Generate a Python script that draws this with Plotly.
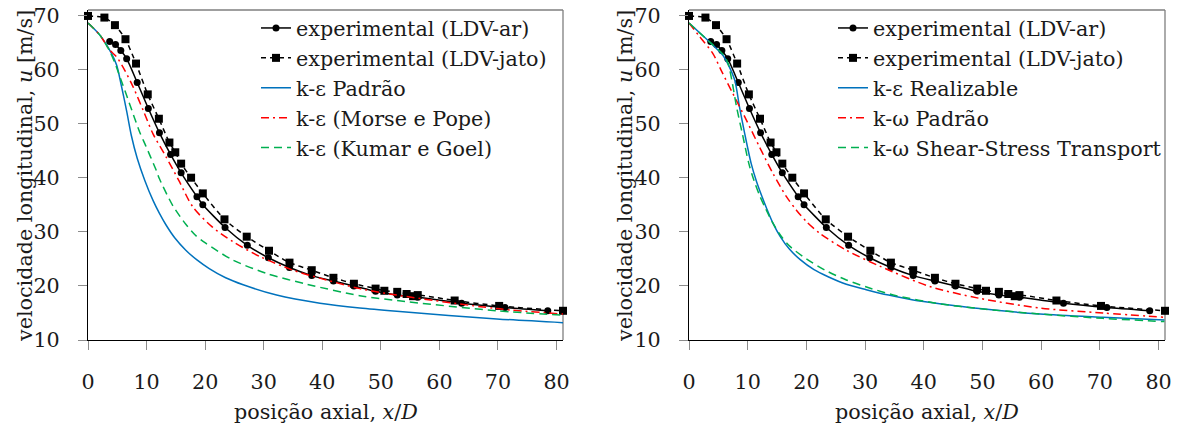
import plotly.graph_objects as go

# ---------------- data ----------------
ldv_ar_x = [3.7, 4.7, 5.6, 6.6, 8.4, 10.3, 12.2, 14.1, 15.9, 18.6, 19.6, 23.4, 27.2, 30.8, 34.4,
            38.2, 41.9, 45.4, 49.1, 52.8, 56.3, 63.8, 71.2, 78.5]
ldv_ar_y = [65.2, 64.6, 63.5, 62.0, 57.6, 52.8, 48.3, 44.3, 40.9, 36.5, 35.0, 30.8, 27.5, 25.2, 23.4,
            21.9, 20.9, 20.0, 19.0, 18.3, 17.9, 16.8, 16.0, 15.4]

ldv_jato_x = [0, 2.8, 4.6, 6.4, 8.2, 10.2, 12.1, 13.9, 14.9, 15.9, 17.6, 19.6, 23.3, 27.1, 30.9, 34.4,
              38.2, 41.9, 45.4, 49.1, 50.6, 52.8, 54.4, 55.5, 56.3, 62.6, 70.2, 81.1]
ldv_jato_y = [69.9, 69.6, 68.2, 65.6, 61.1, 55.4, 50.9, 46.5, 44.7, 42.6, 40.0, 37.1, 32.3, 29.1, 26.5, 24.3,
              22.9, 21.5, 20.4, 19.5, 19.1, 18.9, 18.5, 18.1, 18.3, 17.3, 16.3, 15.4]

# left panel: k-epsilon models
ke_padrao_x = [0, 2.0, 4.0, 4.9, 5.7, 6.6, 7.4, 8.4, 9.7, 11.1, 12.2, 13.3, 14.8, 16.7, 18.6, 20.7, 23.5,
               26.5, 32.2, 39.6, 46.4, 52.7, 69.8, 81.1]
ke_padrao_y = [68.6, 66.4, 63.0, 60.8, 57.0, 52.3, 47.8, 43.6, 39.5, 35.8, 33.4, 31.3, 28.9, 26.6, 24.8, 23.2, 21.5,
               20.2, 18.3, 16.8, 15.9, 15.3, 13.9, 13.2]

ke_morse_x = [0, 2.0, 3.7, 4.9, 6.3, 7.7, 9.4, 11.1, 13.3, 15.5, 17.9, 21.2, 24.7, 29.4, 35.0, 40.7, 46.4, 52.7, 69.8, 81.1]
ke_morse_y = [68.6, 66.4, 63.6, 62.3, 59.8, 56.8, 52.5, 48.1, 43.9, 39.5, 34.6, 30.9, 28.2, 25.4, 22.9, 21.1, 19.5, 18.3, 15.8, 14.8]

ke_kumar_x = [0, 2.0, 3.7, 4.6, 5.5, 6.6, 7.7, 8.8, 9.9, 11.6, 12.2, 14.5, 16.7, 18.3, 20.1, 24.7, 30.5, 37.4,
              46.4, 52.7, 69.8, 81.1]
ke_kumar_y = [68.6, 66.4, 63.4, 61.2, 58.5, 55.2, 51.8, 48.5, 45.8, 41.5, 39.8, 34.8, 31.4, 29.4, 27.9, 24.8, 22.3, 20.3,
              18.2, 17.3, 15.4, 14.6]

# right panel
ke_real_x = [0, 3.5, 5.8, 6.6, 7.8, 8.6, 9.5, 10.6, 11.5, 12.4, 13.2, 14.3, 15.5, 17.1, 18.9, 21.3, 23.7,
             26.8, 30.2, 34.0, 38.2, 42.7, 49.5, 59.8, 70.5, 81.0]
ke_real_y = [68.6, 65.1, 62.6, 61.1, 58.0, 53.1, 48.1, 42.6, 39.3, 36.6, 34.4, 31.6, 29.2, 26.8, 24.9, 23.0, 21.7,
             20.3, 19.3, 18.3, 17.4, 16.7, 15.8, 14.8, 14.2, 13.7]

kw_padrao_x = [0, 1.8, 4.1, 5.5, 7.5, 9.8, 12.0, 14.3, 16.6, 18.3, 20.0, 22.3, 26.8, 32.6, 41.0, 49.5, 59.8, 70.5, 81.0]
kw_padrao_y = [68.6, 66.1, 62.9, 59.8, 55.5, 50.6, 45.7, 40.8, 36.5, 34.0, 31.9, 29.7, 26.6, 23.6, 19.9, 17.7, 15.9, 15.0, 14.2]

kw_sst_x = [0, 3.5, 5.8, 6.6, 7.3, 8.1, 9.1, 10.2, 11.1, 12.0, 13.0, 14.2, 15.5, 17.2, 20.0, 23.2, 26.8,
            30.5, 35.3, 42.7, 49.5, 59.8, 70.5, 81.0]
kw_sst_y = [68.6, 65.1, 62.8, 61.3, 58.0, 53.1, 48.1, 42.6, 39.4, 36.8, 34.4, 31.8, 29.5, 27.3, 25.0, 22.9, 21.1,
            19.7, 18.2, 16.7, 15.8, 14.8, 14.0, 13.4]

x_ticks = [0, 10, 20, 30, 40, 50, 60, 70, 80]
y_ticks = [10, 20, 30, 40, 50, 60, 70]

# ---------------- styling ----------------
FONT = "DejaVu Serif"
FS = 20.7
TXT = "#1a1a1a"
BLUE = "#0072BD"
RED = "#FF0000"
GREEN = "#00B050"
W, H = 1179, 432

fig = go.Figure()


def add_exp(xa, ya, legend):
    fig.add_trace(go.Scatter(x=ldv_ar_x, y=ldv_ar_y, mode="lines+markers", name="experimental (LDV-ar)",
                             line=dict(color="black", width=1.5, shape="spline", smoothing=0.6),
                             marker=dict(symbol="circle", size=7, color="black"),
                             xaxis=xa, yaxis=ya, legend=legend, legendgroup=legend + "a", cliponaxis=False))
    fig.add_trace(go.Scatter(x=ldv_jato_x, y=ldv_jato_y, mode="lines+markers", name="experimental (LDV-jato)",
                             line=dict(color="black", width=1.5, dash="5px,4px", shape="spline", smoothing=0.6),
                             marker=dict(symbol="square", size=8, color="black"),
                             xaxis=xa, yaxis=ya, legend=legend, legendgroup=legend + "b", cliponaxis=False))


def add_model(x, y, name, color, dash, xa, ya, legend, grp):
    fig.add_trace(go.Scatter(x=x, y=y, mode="lines", name=name,
                             line=dict(color=color, width=1.5, dash=dash, shape="spline", smoothing=0.8),
                             xaxis=xa, yaxis=ya, legend=legend, legendgroup=legend + grp))


add_exp("x", "y", "legend")
add_model(ke_padrao_x, ke_padrao_y, "k-ε Padrão", BLUE, "solid", "x", "y", "legend", "c")
add_model(ke_morse_x, ke_morse_y, "k-ε (Morse e Pope)", RED, "8px,4px,2px,4px", "x", "y", "legend", "d")
add_model(ke_kumar_x, ke_kumar_y, "k-ε (Kumar e Goel)", GREEN, "8px,5px", "x", "y", "legend", "e")

add_exp("x2", "y2", "legend2")
add_model(ke_real_x, ke_real_y, "k-ε Realizable", BLUE, "solid", "x2", "y2", "legend2", "c")
add_model(kw_padrao_x, kw_padrao_y, "k-ω Padrão", RED, "8px,4px,2px,4px", "x2", "y2", "legend2", "d")
add_model(kw_sst_x, kw_sst_y, "k-ω Shear-Stress Transport", GREEN, "8px,5px", "x2", "y2", "legend2", "e")

ydom = [1 - 340 / H, 1 - 10 / H]
xdom1 = [88 / W, 563 / W]
xdom2 = [689 / W, 1165 / W]

axis_common = dict(showgrid=False, zeroline=False, showline=True, linecolor="black", linewidth=1.3,
                   ticks="outside", ticklen=9, tickcolor="#8c8c8c", tickwidth=1.2, automargin=False,
                   tickfont=dict(family=FONT, size=FS, color=TXT))

fig.update_layout(
    width=W, height=H, margin=dict(l=0, r=0, t=0, b=0, autoexpand=False),
    paper_bgcolor="white", plot_bgcolor="white",
    font=dict(family=FONT, size=FS, color=TXT),
    xaxis=dict(domain=xdom1, range=[0, 81.1], tickvals=x_ticks, anchor="y", ticklabelstandoff=14, **axis_common),
    yaxis=dict(domain=ydom, range=[10, 71], tickvals=y_ticks, anchor="x", ticklabelstandoff=14, **axis_common),
    xaxis2=dict(domain=xdom2, range=[0, 81.1], tickvals=x_ticks, anchor="y2", ticklabelstandoff=14, **axis_common),
    yaxis2=dict(domain=ydom, range=[10, 71], tickvals=y_ticks, anchor="x2", ticklabelstandoff=14, **axis_common),
    legend=dict(x=256 / W, y=1 - 8 / H, xanchor="left", yanchor="top", bgcolor="rgba(0,0,0,0)",
                font=dict(family=FONT, size=FS, color=TXT), itemwidth=30, tracegroupgap=0),
    legend2=dict(x=833 / W, y=1 - 8 / H, xanchor="left", yanchor="top", bgcolor="rgba(0,0,0,0)",
                 font=dict(family=FONT, size=FS, color=TXT), itemwidth=30, tracegroupgap=0),
    showlegend=True,
)

# gray top and right frame lines
for xr, yr in (("x domain", "y domain"), ("x2 domain", "y2 domain")):
    fig.add_shape(type="line", xref=xr, yref=yr, x0=0, x1=1, y0=1, y1=1,
                  line=dict(color="#7f7f7f", width=1.3), layer="below")
    fig.add_shape(type="line", xref=xr, yref=yr, x0=1, x1=1, y0=0, y1=1,
                  line=dict(color="#7f7f7f", width=1.3), layer="below")

# axis titles
ytitle = "velocidade longitudinal, <i>u</i> [m/s]"
xtitle = "posição axial, <i>x</i>/<i>D</i>"
for cx, ycx in (((xdom1[0] + xdom1[1]) / 2, 25), ((xdom2[0] + xdom2[1]) / 2, 625)):
    fig.add_annotation(text=xtitle, x=cx, y=1 - 412 / H, xref="paper", yref="paper",
                       showarrow=False, xanchor="center", yanchor="middle",
                       font=dict(family=FONT, size=FS, color=TXT))
    fig.add_annotation(text=ytitle, x=ycx / W, y=1 - 176 / H, xref="paper", yref="paper",
                       showarrow=False, xanchor="center", yanchor="middle", textangle=-90,
                       font=dict(family=FONT, size=FS, color=TXT))

fig.write_html("out.html")
